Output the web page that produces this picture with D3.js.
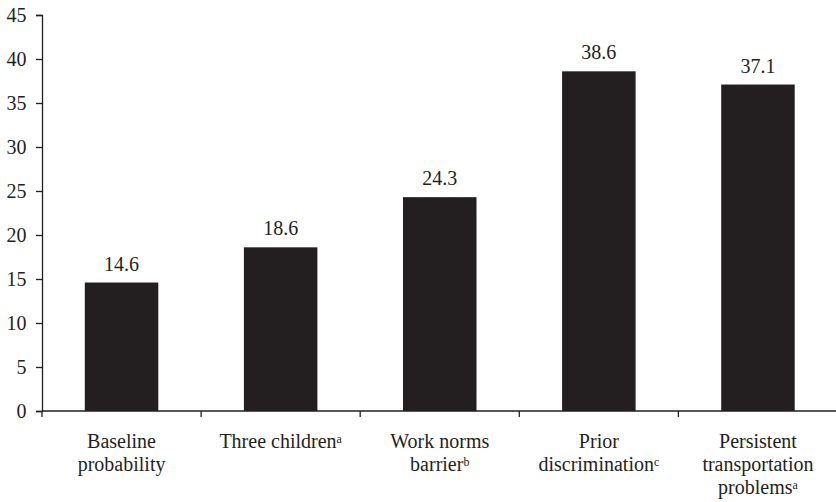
<!DOCTYPE html>
<html>
<head>
<meta charset="utf-8">
<script src="https://cdn.jsdelivr.net/npm/d3@7"></script>
<style>
  html, body { margin: 0; padding: 0; background: #fff; }
  svg { display: block; }
</style>
</head>
<body>
<svg id="chart" width="836" height="502" font-family="Liberation Serif"></svg>
<script>
// Predicted probability (%) for each scenario
const categories = ["baseline", "children", "norms", "discrimination", "transport"];
const labelLines = [
  [["Baseline", ""], ["probability", ""]],
  [["Three children", "a"]],
  [["Work norms", ""], ["barrier", "b"]],
  [["Prior", ""], ["discrimination", "c"]],
  [["Persistent", ""], ["transportation", ""], ["problems", "a"]]
];
const values = [14.6, 18.6, 24.3, 38.6, 37.1];
const yTicks = [0, 5, 10, 15, 20, 25, 30, 35, 40, 45];

const ink = "#231f20";
const FONT = "Liberation Serif";
const FS = 20;
const svg = d3.select("#chart");

const x = d3.scaleBand()
  .domain(categories)
  .range([42, 837.5])
  .paddingInner(0.538)
  .paddingOuter(0.269);

const y = d3.scaleLinear().domain([0, 45]).range([411, 15]);

// Y axis
const yAxis = svg.append("g")
  .attr("transform", "translate(42,0)")
  .call(d3.axisLeft(y).tickValues(yTicks).tickSize(6).tickPadding(9.5).tickFormat(d3.format("d")));
yAxis.attr("font-family", FONT).attr("font-size", FS);
yAxis.select(".domain").attr("stroke", ink).attr("stroke-width", 1.3);
yAxis.selectAll(".tick line").attr("stroke", ink).attr("stroke-width", 1.3);
yAxis.selectAll(".tick text")
  .attr("font-family", FONT)
  .attr("font-size", FS)
  .attr("fill", ink);

// Bars
svg.append("g").selectAll("rect")
  .data(values)
  .join("rect")
  .attr("x", (d, i) => x(categories[i]))
  .attr("width", x.bandwidth())
  .attr("y", d => y(d))
  .attr("height", d => y(0) - y(d))
  .attr("fill", ink);

// Value labels
svg.append("g").selectAll("text")
  .data(values)
  .join("text")
  .attr("x", (d, i) => x(categories[i]) + x.bandwidth() / 2)
  .attr("y", d => y(d) - 12)
  .attr("text-anchor", "middle")
  .attr("fill", ink)
  .attr("font-family", FONT)
  .attr("font-size", FS)
  .text(d => d.toFixed(1));

// X axis: baseline with ticks at category boundaries
const half = x.step() * x.paddingInner() / 2;
const bounds = categories.map(c => x(c) - half);
const xAxis = svg.append("g");
xAxis.append("line")
  .attr("x1", 42).attr("x2", 836)
  .attr("y1", y(0)).attr("y2", y(0))
  .attr("stroke", ink).attr("stroke-width", 1.3);
xAxis.selectAll("line.tick")
  .data(bounds)
  .join("line")
  .attr("class", "tick")
  .attr("x1", d => d).attr("x2", d => d)
  .attr("y1", y(0)).attr("y2", y(0) + 6)
  .attr("stroke", ink).attr("stroke-width", 1.3);

// Category labels (multi-line, with superscript notes)
const lab = svg.append("g").selectAll("text")
  .data(categories)
  .join("text")
  .attr("text-anchor", "middle")
  .attr("fill", ink)
  .attr("font-family", FONT)
  .attr("font-size", FS)
  .attr("transform", (c) => `translate(${x(c) + x.bandwidth() / 2},${y(0) + 37})`);

lab.each(function(c, i) {
  const t = d3.select(this);
  labelLines[i].forEach((ln, j) => {
    t.append("tspan")
      .attr("x", 0)
      .attr("y", j * 22.8)
      .text(ln[0]);
    if (ln[1]) {
      t.append("tspan")
        .attr("dy", -5)
        .attr("font-size", 12)
        .text(ln[1]);
    }
  });
});
</script>
</body>
</html>
